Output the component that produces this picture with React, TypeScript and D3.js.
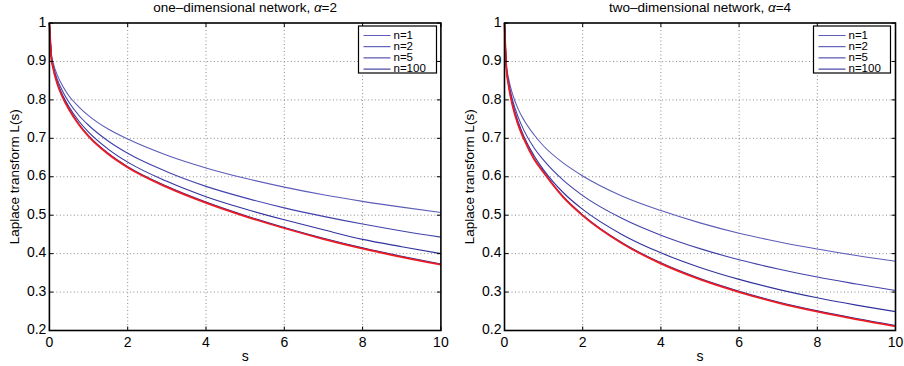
import * as d3 from "d3";

const sValues = [0, 0.05, 0.1, 0.2, 0.35, 0.5, 0.75, 1, 1.5, 2, 3, 4, 5, 6, 7, 8, 9, 10];

// one-dimensional network, alpha = 2
const oneDimN1 = [1, 0.92, 0.895, 0.865, 0.834, 0.81, 0.782, 0.759, 0.724, 0.698, 0.656, 0.623, 0.596, 0.573, 0.553, 0.536, 0.521, 0.507];
const oneDimN2 = [1, 0.915, 0.888, 0.854, 0.82, 0.794, 0.76, 0.734, 0.693, 0.661, 0.613, 0.575, 0.545, 0.519, 0.497, 0.477, 0.459, 0.443];
const oneDimN5 = [1, 0.912, 0.883, 0.847, 0.81, 0.782, 0.745, 0.716, 0.672, 0.638, 0.588, 0.548, 0.516, 0.488, 0.462, 0.437, 0.418, 0.4];
const oneDimN100 = [1, 0.911, 0.881, 0.844, 0.806, 0.777, 0.738, 0.707, 0.661, 0.626, 0.575, 0.534, 0.499, 0.468, 0.44, 0.415, 0.393, 0.373];
const oneDimLimit = [1, 0.91, 0.88, 0.842, 0.804, 0.775, 0.736, 0.705, 0.659, 0.624, 0.573, 0.532, 0.497, 0.466, 0.438, 0.413, 0.391, 0.371];

// two-dimensional network, alpha = 4
const twoDimN1 = [1, 0.89, 0.858, 0.817, 0.776, 0.747, 0.71, 0.68, 0.636, 0.602, 0.55, 0.512, 0.48, 0.453, 0.431, 0.412, 0.395, 0.38];
const twoDimN2 = [1, 0.885, 0.848, 0.802, 0.755, 0.72, 0.676, 0.643, 0.591, 0.551, 0.492, 0.448, 0.413, 0.384, 0.36, 0.339, 0.321, 0.304];
const twoDimN5 = [1, 0.882, 0.845, 0.795, 0.743, 0.704, 0.656, 0.618, 0.559, 0.515, 0.45, 0.402, 0.364, 0.333, 0.307, 0.285, 0.266, 0.249];
const twoDimN100 = [1, 0.881, 0.842, 0.789, 0.737, 0.699, 0.649, 0.613, 0.549, 0.501, 0.429, 0.376, 0.335, 0.302, 0.274, 0.251, 0.231, 0.213];
const twoDimLimit = [1, 0.88, 0.84, 0.787, 0.735, 0.697, 0.647, 0.611, 0.547, 0.499, 0.427, 0.374, 0.333, 0.3, 0.272, 0.249, 0.229, 0.211];

const legendLabels = ["n=1", "n=2", "n=5", "n=100"];
const lineColors = ["#5c5cba", "#4242ab", "#32329e", "#22228e"];
const limitColor = "#ec1c24";

const xTicks = [0, 2, 4, 6, 8, 10];
const yTicks = [0.2, 0.3, 0.4, 0.5, 0.6, 0.7, 0.8, 0.9, 1];

const font = "'Liberation Sans', Arial, Helvetica, sans-serif";

type PanelProps = {
  x0: number;
  x1: number;
  title: string;
  alpha: string;
  curves: number[][];
  limit: number[];
  legendX: number;
  legendW: number;
};

const Panel = ({ x0, x1, title, alpha, curves, limit, legendX, legendW }: PanelProps) => {
  const top = 23;
  const bottom = 330.5;
  const x = d3.scaleLinear().domain([0, 10]).range([x0, x1]);
  const y = d3.scaleLinear().domain([0.2, 1]).range([bottom, top]);
  const line = d3
    .line<number>()
    .x((_, i) => x(sValues[i]))
    .y((d) => y(d))
    .curve(d3.curveMonotoneX);

  const legendTop = 26;
  const rowH = 11.2;

  return (
    <g fontFamily={font}>
      <text x={(x0 + x1) / 2} y={12} fontSize={13.5} textAnchor="middle">
        {title}
        <tspan fontFamily={font} fontStyle="italic">α</tspan>={alpha}
      </text>

      {/* grid */}
      {xTicks.slice(1, -1).map((t) => (
        <line key={"gx" + t} x1={x(t)} x2={x(t)} y1={top} y2={bottom} stroke="#8a8a8a" strokeDasharray="1,2.5" />
      ))}
      {yTicks.slice(1, -1).map((t) => (
        <line key={"gy" + t} x1={x0} x2={x1} y1={y(t)} y2={y(t)} stroke="#8a8a8a" strokeDasharray="1,2.5" />
      ))}

      {/* curves */}
      {curves.map((c, i) => (
        <path key={"c" + i} d={line(c) ?? ""} fill="none" stroke={lineColors[i]} strokeWidth={1.1} />
      ))}
      <path d={line(limit) ?? ""} fill="none" stroke={limitColor} strokeWidth={1.8} />

      {/* box and ticks */}
      <rect x={x0} y={top} width={x1 - x0} height={bottom - top} fill="none" stroke="#000" strokeWidth={1.6} />
      {xTicks.map((t) => (
        <g key={"tx" + t}>
          <line x1={x(t)} x2={x(t)} y1={bottom} y2={bottom - 4} stroke="#000" />
          <line x1={x(t)} x2={x(t)} y1={top} y2={top + 4} stroke="#000" />
          <text x={x(t)} y={343} fontSize={14} textAnchor="middle" dominantBaseline="middle">
            {t}
          </text>
        </g>
      ))}
      {yTicks.map((t) => (
        <g key={"ty" + t}>
          <line x1={x0} x2={x0 + 4} y1={y(t)} y2={y(t)} stroke="#000" />
          <line x1={x1} x2={x1 - 4} y1={y(t)} y2={y(t)} stroke="#000" />
          <text x={x0 - 3} y={y(t)} fontSize={14} textAnchor="end" dominantBaseline="middle">
            {d3.format("~g")(t)}
          </text>
        </g>
      ))}
      <text x={(x0 + x1) / 2} y={357} fontSize={14} textAnchor="middle" dominantBaseline="middle">
        s
      </text>
      <text
        transform={`translate(${x0 - 34},${(top + bottom) / 2}) rotate(-90)`}
        fontSize={13.5}
        textAnchor="middle"
        dominantBaseline="middle"
      >
        Laplace transform L(s)
      </text>

      {/* legend */}
      <rect x={legendX} y={legendTop} width={legendW} height={47} fill="#fff" stroke="#000" strokeWidth={1.2} />
      {legendLabels.map((lab, i) => {
        const ly = legendTop + 9.5 + i * rowH;
        return (
          <g key={lab}>
            <line x1={legendX + 5} x2={legendX + 32} y1={ly} y2={ly} stroke={lineColors[i]} strokeWidth={1} />
            <text x={legendX + 35} y={ly} fontSize={11.5} dominantBaseline="middle">
              {lab}
            </text>
          </g>
        );
      })}
    </g>
  );
};

export default function App() {
  return (
    <svg width={904} height={366} style={{ position: "absolute", left: 0, top: 0, background: "#fff" }}>
      <rect width={904} height={366} fill="#fff" />
      <Panel
        x0={49.4}
        x1={440.9}
        title="one–dimensional network, "
        alpha="2"
        curves={[oneDimN1, oneDimN2, oneDimN5, oneDimN100]}
        limit={oneDimLimit}
        legendX={358.5}
        legendW={78}
      />
      <Panel
        x0={504.5}
        x1={895.5}
        title="two–dimensional network, "
        alpha="4"
        curves={[twoDimN1, twoDimN2, twoDimN5, twoDimN100]}
        limit={twoDimLimit}
        legendX={813.5}
        legendW={77}
      />
    </svg>
  );
}
